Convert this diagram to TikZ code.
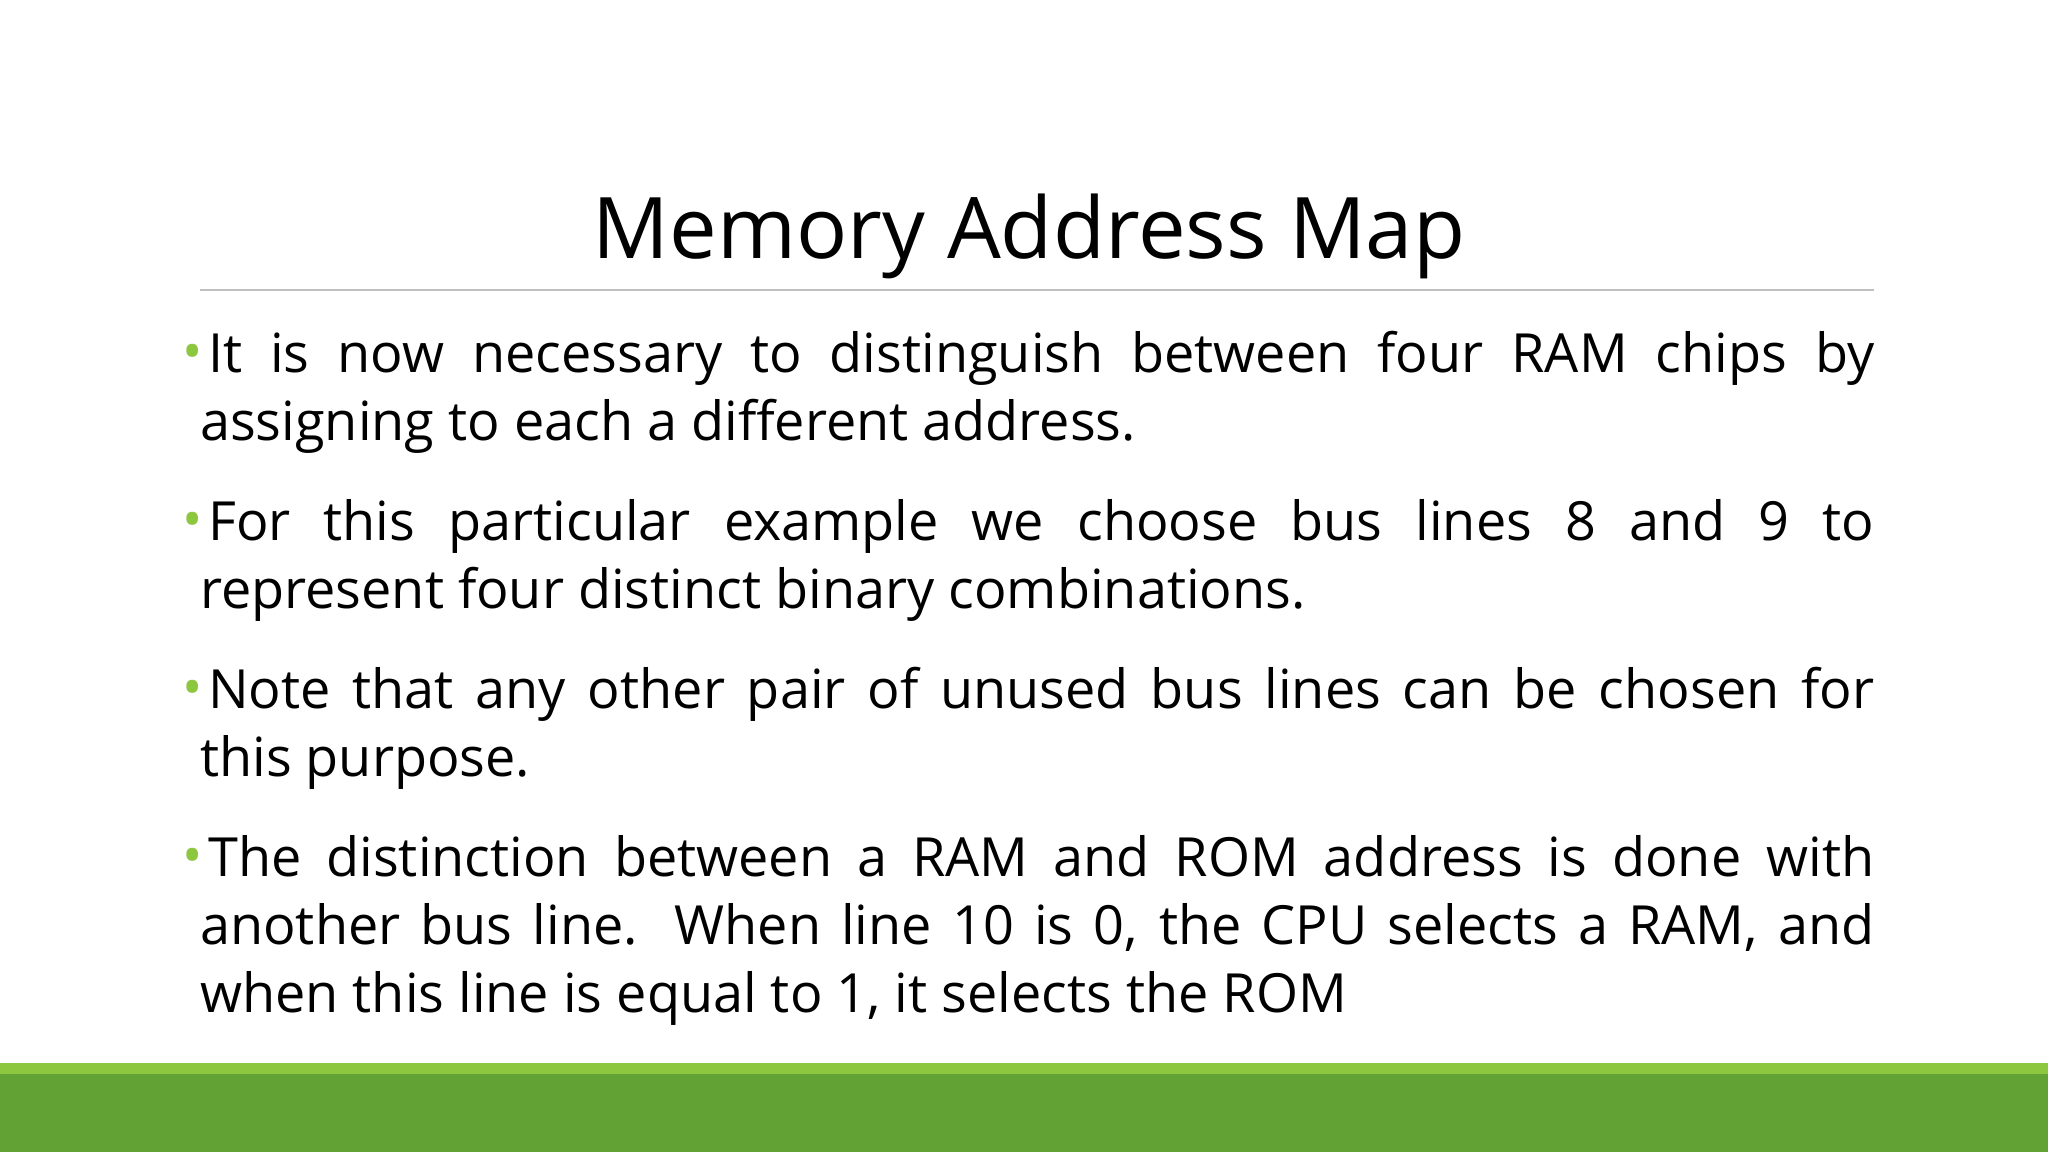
\documentclass[tikz,border=0pt]{standalone}
\usepackage{fontspec}
\setmainfont{Open Sans}
\definecolor{lgreen}{HTML}{8DC63F}
\definecolor{dgreen}{HTML}{62A133}
\definecolor{rulegray}{HTML}{BFBFBF}
\tikzset{
  para/.style={anchor=north west, inner sep=0pt, text width=1674pt, align=justify,
    font=\fontsize{54}{68}\selectfont},
  bul/.style={anchor=base, inner sep=0pt, text=lgreen, font=\fontsize{54}{54}\selectfont}
}
\begin{document}
\begin{tikzpicture}[x=1pt,y=1pt]
\useasboundingbox (0,0) rectangle (2048,-1152);
\fill[white] (0,0) rectangle (2048,-1152);
\node[anchor=base, inner sep=0pt, font=\fontsize{85}{85}\selectfont] (title) at (1029,-258) {Memory Address Map};
\coordinate (rl) at (200,-290); \coordinate (rr) at (1874,-290);
\draw[rulegray, line width=1.5pt] (rl) -- (rr);
\node[para] (p1) at (200,-331) {\hspace*{8pt}It is now necessary to distinguish between four RAM chips by\linebreak assigning to each a different address.};
\node[para] (p2) at (200,-499) {\hspace*{8pt}For this particular example we choose bus lines 8 and 9 to\linebreak represent four distinct binary combinations.};
\node[para] (p3) at (200,-667) {\hspace*{8pt}Note that any other pair of unused bus lines can be chosen for\linebreak this purpose.};
\node[para] (p4) at (200,-835) {\hspace*{8pt}The distinction between a RAM and ROM address is done with\linebreak another bus line. When line 10 is 0, the CPU selects a RAM, and\linebreak when this line is equal to 1, it selects the ROM};
\node[bul] (b1) at (193,-370) {•};
\node[bul] (b2) at (193,-538) {•};
\node[bul] (b3) at (193,-706) {•};
\node[bul] (b4) at (193,-874) {•};
\fill[lgreen] (0,-1063) rectangle (2048,-1074);
\fill[dgreen] (0,-1074) rectangle (2048,-1152);
\end{tikzpicture}
\end{document}
